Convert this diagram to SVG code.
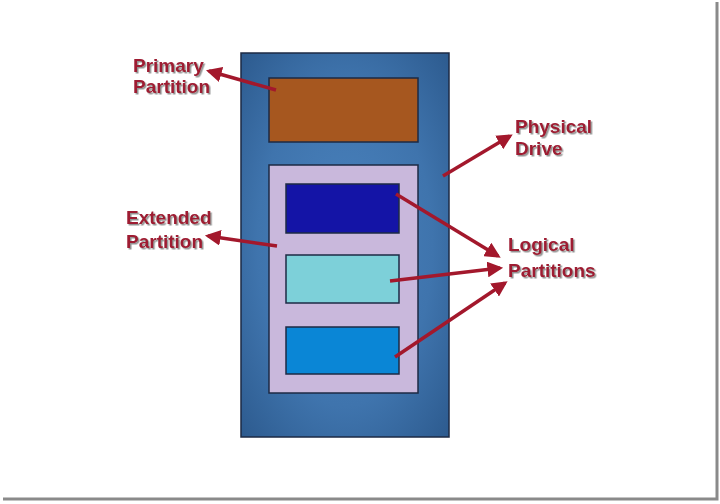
<svg xmlns="http://www.w3.org/2000/svg" width="720" height="504" viewBox="0 0 720 504">
<defs>
<radialGradient id="drv" cx="50%" cy="50%" r="70%">
<stop offset="0" stop-color="#4a82bd"/>
<stop offset="0.6" stop-color="#3f74ad"/>
<stop offset="1" stop-color="#2d5b8f"/>
</radialGradient>
<marker id="ah" viewBox="0 0 10 10" refX="8" refY="5" markerWidth="4.5" markerHeight="4.5" orient="auto">
<path d="M0,0 L10,5 L0,10 z" fill="#a3182c"/>
</marker>
<filter id="sh" x="-10%" y="-10%" width="130%" height="140%">
<feDropShadow dx="1.5" dy="1.5" stdDeviation="0.6" flood-color="#777" flood-opacity="0.8"/>
</filter>
</defs>
<style>
.lbl{font-family:"Liberation Sans",Arial,sans-serif;font-weight:bold;font-size:19px;fill:#9e1b32;filter:url(#sh)}
.box{stroke:#1c2a44;stroke-width:1.5}
.con{stroke:#a3182c;stroke-width:3.5;fill:none;marker-end:url(#ah)}
</style>
<rect x="0" y="0" width="720" height="504" fill="#ffffff"/>
<path d="M3,499 H717 V2" fill="none" stroke="#8a8a8a" stroke-width="3"/>
<g id="drive"><rect class="box" x="241" y="53" width="208" height="384" fill="url(#drv)"/></g>
<g id="primary"><rect class="box" x="269" y="78" width="149" height="64" fill="#a6571f"/></g>
<g id="extended"><rect class="box" x="269" y="165" width="149" height="228" fill="#c9b8dc"/></g>
<g id="logical1"><rect class="box" x="286" y="184" width="113" height="49" fill="#1414a6"/></g>
<g id="logical2"><rect class="box" x="286" y="255" width="113" height="48" fill="#7dd0d9"/></g>
<g id="logical3"><rect class="box" x="286" y="327" width="113" height="47" fill="#0a86d6"/></g>
<g id="connectors">
<line class="con" x1="276" y1="90" x2="209" y2="71"/>
<line class="con" x1="443" y1="176" x2="510" y2="136"/>
<line class="con" x1="277" y1="246" x2="208" y2="236"/>
<line class="con" x1="396" y1="194" x2="498" y2="256"/>
<line class="con" x1="390" y1="281" x2="500" y2="268"/>
<line class="con" x1="395" y1="357" x2="505" y2="283"/>
</g>
<g id="lbl-primary"><text class="lbl" x="133" y="72">Primary</text><text class="lbl" x="133" y="93">Partition</text></g>
<g id="lbl-physical"><text class="lbl" x="515" y="133">Physical</text><text class="lbl" x="515" y="155">Drive</text></g>
<g id="lbl-extended"><text class="lbl" x="126" y="224">Extended</text><text class="lbl" x="126" y="248">Partition</text></g>
<g id="lbl-logical"><text class="lbl" x="508" y="251">Logical</text><text class="lbl" x="508" y="277">Partitions</text></g>
</svg>
